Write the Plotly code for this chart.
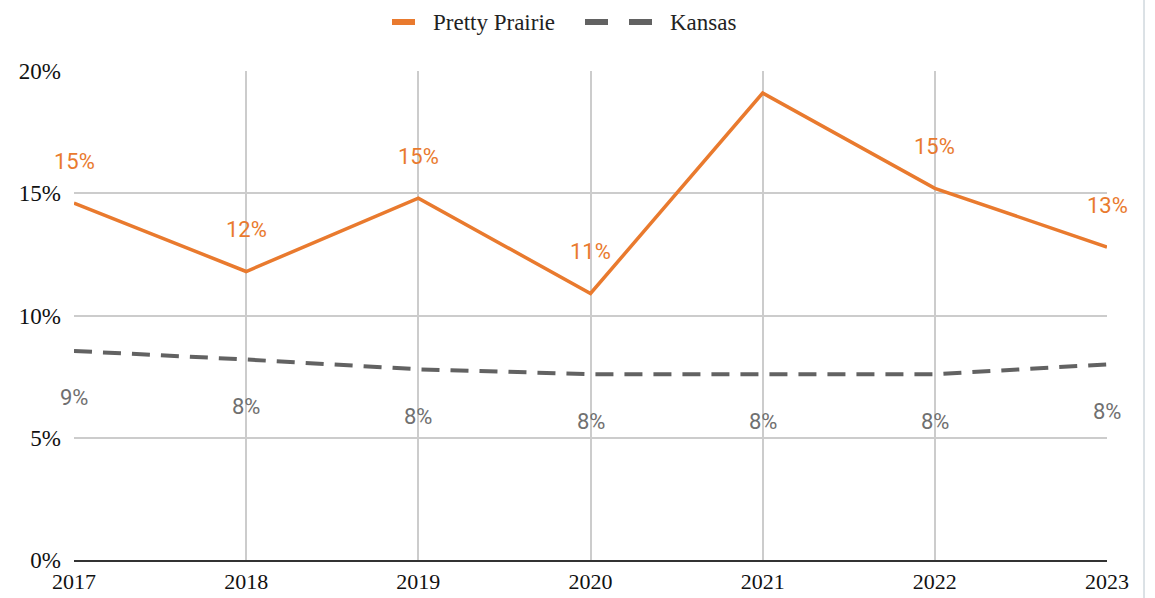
import plotly.graph_objects as go

years = [2017, 2018, 2019, 2020, 2021, 2022, 2023]
pretty_prairie = [14.6, 11.8, 14.8, 10.9, 19.1, 15.2, 12.8]
kansas = [8.55, 8.2, 7.8, 7.6, 7.6, 7.6, 8.0]
# the 2021 Pretty Prairie value carries no label
pp_labeled = [True, True, True, True, False, True, True]
series_names = ["Pretty Prairie", "Kansas"]

ORANGE = "#E97A2E"
GRAY = "#626262"
LABEL_GRAY = "#707070"
SERIF = "Liberation Serif, Times New Roman, serif"

# plot area in pixels (for placing the hand-drawn legend)
L, R, T, B = 74, 48, 71, 38
W, H = 1155, 598
PW, PH = W - L - R, H - T - B


def px_x(px):
    return (px - L) / PW


def px_y(py):
    return (H - B - py) / PH


fig = go.Figure()
fig.add_trace(go.Scatter(
    x=years, y=pretty_prairie, mode="lines", name=series_names[0],
    line=dict(color=ORANGE, width=3.5), showlegend=False,
))
fig.add_trace(go.Scatter(
    x=years, y=kansas, mode="lines", name=series_names[1],
    line=dict(color=GRAY, width=4, dash="18px,11px"), showlegend=False,
))

annotations = []
for yr, v, show in zip(years, pretty_prairie, pp_labeled):
    if show:
        annotations.append(dict(
            x=yr, y=v, xref="x", yref="y", text=f"{round(v)}%", showarrow=False,
            yshift=42, font=dict(family="Roboto", size=22, color=ORANGE),
        ))
for yr, v in zip(years, kansas):
    annotations.append(dict(
        x=yr, y=v, xref="x", yref="y", text=f"{round(v)}%", showarrow=False,
        yshift=-47, font=dict(family="Roboto", size=22, color=LABEL_GRAY),
    ))

# legend: swatches + names across the top
legend_y = px_y(22)
shapes = [
    dict(type="line", xref="paper", yref="paper", x0=px_x(392), x1=px_x(415),
         y0=legend_y, y1=legend_y, line=dict(color=ORANGE, width=6)),
    dict(type="line", xref="paper", yref="paper", x0=px_x(585), x1=px_x(608),
         y0=legend_y, y1=legend_y, line=dict(color=GRAY, width=6)),
    dict(type="line", xref="paper", yref="paper", x0=px_x(629), x1=px_x(652),
         y0=legend_y, y1=legend_y, line=dict(color=GRAY, width=6)),
    # thin frame line on the right edge
    dict(type="line", xref="paper", yref="paper", x0=px_x(1144), x1=px_x(1144),
         y0=px_y(H), y1=px_y(0), line=dict(color="#B8C4CC", width=1)),
]
for name, left in zip(series_names, [431, 668]):
    annotations.append(dict(
        x=px_x(left), y=legend_y, xref="paper", yref="paper", text=name,
        xanchor="left", yanchor="middle", showarrow=False,
        font=dict(family=SERIF, size=23, color="#222222"),
    ))

fig.update_layout(
    width=W, height=H,
    margin=dict(l=L, r=R, t=T, b=B, autoexpand=False),
    paper_bgcolor="white", plot_bgcolor="white",
    showlegend=False,
    annotations=annotations,
    shapes=shapes,
    xaxis=dict(
        range=[2017, 2023], tickvals=years, ticktext=[str(y) for y in years],
        showgrid=True, gridcolor="#CCCCCC", gridwidth=1.5,
        showline=True, linecolor="#333333", linewidth=1.5,
        zeroline=False, ticks="", automargin=False, ticklabelstandoff=1,
        tickfont=dict(family=SERIF, size=22, color="#111111"),
    ),
    yaxis=dict(
        range=[0, 20], tickvals=[0, 5, 10, 15, 20],
        ticktext=["0%", "5%", "10%", "15%", "20%"],
        showgrid=True, gridcolor="#CCCCCC", gridwidth=1.5,
        zeroline=False, ticks="", ticklabelstandoff=12, automargin=False,
        tickfont=dict(family=SERIF, size=23, color="#111111"),
    ),
)

fig.write_html("out.html")
